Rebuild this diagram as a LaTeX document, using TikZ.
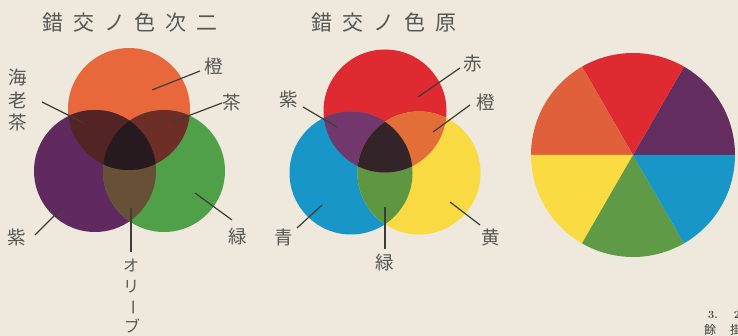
\documentclass[tikz,border=0pt]{standalone}
\usepackage{fontspec}
\newfontfamily\jp{Noto Sans CJK JP}
\definecolor{paper}{RGB}{238,233,220}
\definecolor{ink}{RGB}{88,86,82}
\definecolor{leadc}{RGB}{62,60,58}
% secondary diagram
\definecolor{sO}{RGB}{232,104,60}
\definecolor{sP}{RGB}{96,42,96}
\definecolor{sG}{RGB}{80,160,74}
\definecolor{sOP}{RGB}{84,36,36}
\definecolor{sOG}{RGB}{108,46,38}
\definecolor{sPG}{RGB}{104,80,54}
\definecolor{sOPG}{RGB}{38,26,30}
% primary diagram
\definecolor{pR}{RGB}{222,42,48}
\definecolor{pB}{RGB}{25,150,200}
\definecolor{pY}{RGB}{250,218,66}
\definecolor{pRB}{RGB}{114,56,110}
\definecolor{pRY}{RGB}{228,110,56}
\definecolor{pBY}{RGB}{95,150,66}
\definecolor{pRBY}{RGB}{50,36,40}
% wheel
\definecolor{wO}{RGB}{225,96,60}
\definecolor{wR}{RGB}{222,42,48}
\definecolor{wP}{RGB}{100,45,95}
\definecolor{wB}{RGB}{25,150,200}
\definecolor{wG}{RGB}{95,155,70}
\definecolor{wY}{RGB}{250,220,66}
\tikzset{
  ttl/.style={font=\jp\fontsize{21}{21}\selectfont, text=ink, inner sep=0pt},
  lbl/.style={font=\jp\fontsize{18.5}{18.5}\selectfont, text=ink, inner sep=0pt},
  vlbl/.style={font=\jp\fontsize{16}{16}\selectfont, text=ink, inner sep=0pt},
  captxt/.style={font=\fontsize{11}{11}\selectfont\bfseries, text=black!75, inner sep=0pt},
  captxtj/.style={font=\jp\fontsize{12}{12}\selectfont, text=black!75, inner sep=0pt},
  lead/.style={draw=leadc, line width=1.2pt},
}
\begin{document}
\begin{tikzpicture}[x=1pt,y=-1pt]
\useasboundingbox (0,0) rectangle (738,336);
\fill[paper] (0,0) rectangle (738,336);

% ---------------- titles
\node[ttl] (t1) at (130,23) {錯\hspace{9.8pt}交\hspace{9.8pt}ノ\hspace{9.8pt}色\hspace{9.8pt}次\hspace{9.8pt}二};
\node[ttl] (t2) at (384,23) {錯\hspace{9.8pt}交\hspace{9.8pt}ノ\hspace{9.8pt}色\hspace{9.8pt}原};

% ---------------- secondary colours diagram
\coordinate (o1) at (129,109);
\coordinate (p1) at (95,171);
\coordinate (g1) at (164,171);
\fill[sO] (o1) circle[radius=61pt];
\fill[sP] (p1) circle[radius=61pt];
\fill[sG] (g1) circle[radius=61pt];
\begin{scope}
  \clip (p1) circle[radius=61pt];
  \fill[sPG] (g1) circle[radius=61pt];
\end{scope}
\begin{scope}
  \clip (o1) circle[radius=61pt];
  \fill[sOP] (p1) circle[radius=61pt];
  \fill[sOG] (g1) circle[radius=61pt];
  \clip (p1) circle[radius=61pt];
  \fill[sOPG] (g1) circle[radius=61pt];
\end{scope}

% labels
\node[lbl] (s-or) at (214,66) {橙};
\node[lbl] (s-br) at (232,102) {茶};
\node[lbl, align=center, font=\jp\fontsize{18.5}{22.5}\selectfont] (s-eb) at (18,100) {海\\老\\茶};
\node[lbl] (s-pu) at (17,237) {紫};
\node[lbl] (s-gr) at (238,236) {緑};
\node[vlbl] (s-ol1) at (131,265) {オ};
\node[vlbl] (s-ol2) at (131,287) {リ};
\node[vlbl, rotate=-90] (s-ol3) at (131,308) {ー};
\node[vlbl] (s-ol4) at (132,326) {ブ};

\coordinate (s-or-a) at (200,71);  \coordinate (s-or-b) at (152,90);
\coordinate (s-br-a) at (222,103); \coordinate (s-br-b) at (172,122);
\coordinate (s-eb-a) at (42,102);  \coordinate (s-eb-b) at (84,123);
\coordinate (s-pu-a) at (35,235);  \coordinate (s-pu-b) at (63,207);
\coordinate (s-gr-a) at (232,220); \coordinate (s-gr-b) at (195,193);
\coordinate (s-ol-b) at (131,208);
\draw[lead] (s-or-a) -- (s-or-b);
\draw[lead] (s-br-a) -- (s-br-b);
\draw[lead] (s-eb-a) -- (s-eb-b);
\draw[lead] (s-pu-a) -- (s-pu-b);
\draw[lead] (s-gr-a) -- (s-gr-b);
\draw[lead, shorten <=6pt] (s-ol1) -- (s-ol-b);

% ---------------- primary colours diagram
\coordinate (r2) at (385,111);
\coordinate (b2) at (351,173);
\coordinate (y2) at (419,173);
\fill[pR] (r2) circle[radius=61.5pt];
\fill[pB] (b2) circle[radius=61.5pt];
\fill[pY] (y2) circle[radius=61.5pt];
\begin{scope}
  \clip (b2) circle[radius=61.5pt];
  \fill[pBY] (y2) circle[radius=61.5pt];
\end{scope}
\begin{scope}
  \clip (r2) circle[radius=61.5pt];
  \fill[pRB] (b2) circle[radius=61.5pt];
  \fill[pRY] (y2) circle[radius=61.5pt];
  \clip (b2) circle[radius=61.5pt];
  \fill[pRBY] (y2) circle[radius=61.5pt];
\end{scope}

\node[lbl] (p-re) at (473,64) {赤};
\node[lbl] (p-or) at (486,102) {橙};
\node[lbl] (p-pu) at (289,99) {紫};
\node[lbl] (p-bl) at (284,237) {青};
\node[lbl] (p-ye) at (491,237) {黄};
\node[lbl] (p-gr) at (385,262) {緑};

\coordinate (p-re-a) at (460,68);  \coordinate (p-re-b) at (418,97);
\coordinate (p-or-a) at (470,105); \coordinate (p-or-b) at (433,132);
\coordinate (p-pu-a) at (303,107); \coordinate (p-pu-b) at (337,127);
\coordinate (p-bl-a) at (297,228); \coordinate (p-bl-b) at (322,205);
\coordinate (p-ye-a) at (480,225); \coordinate (p-ye-b) at (450,202);
\coordinate (p-gr-b) at (385,207);
\draw[lead] (p-re-a) -- (p-re-b);
\draw[lead] (p-or-a) -- (p-or-b);
\draw[lead] (p-pu-a) -- (p-pu-b);
\draw[lead] (p-bl-a) -- (p-bl-b);
\draw[lead] (p-ye-a) -- (p-ye-b);
\draw[lead, shorten <=4pt] (p-gr) -- (p-gr-b);

% ---------------- colour wheel
\coordinate (w) at (633,155);
\fill[wP] (w) -- ++(0:102pt) arc[start angle=0, end angle=60, radius=102pt] -- cycle;
\fill[wR] (w) -- ++(60:102pt) arc[start angle=60, end angle=120, radius=102pt] -- cycle;
\fill[wO] (w) -- ++(120:102pt) arc[start angle=120, end angle=180, radius=102pt] -- cycle;
\fill[wY] (w) -- ++(180:102pt) arc[start angle=180, end angle=240, radius=102pt] -- cycle;
\fill[wG] (w) -- ++(240:102pt) arc[start angle=240, end angle=300, radius=102pt] -- cycle;
\fill[wB] (w) -- ++(300:102pt) arc[start angle=300, end angle=360, radius=102pt] -- cycle;

% ---------------- cropped caption
\node[captxt, anchor=base west] (c1) at (708,318) {3.\hspace{16pt}2};
\node[captxtj, anchor=base west] (c2) at (704,334) {餘\hspace{14pt}掛};
\end{tikzpicture}
\end{document}
